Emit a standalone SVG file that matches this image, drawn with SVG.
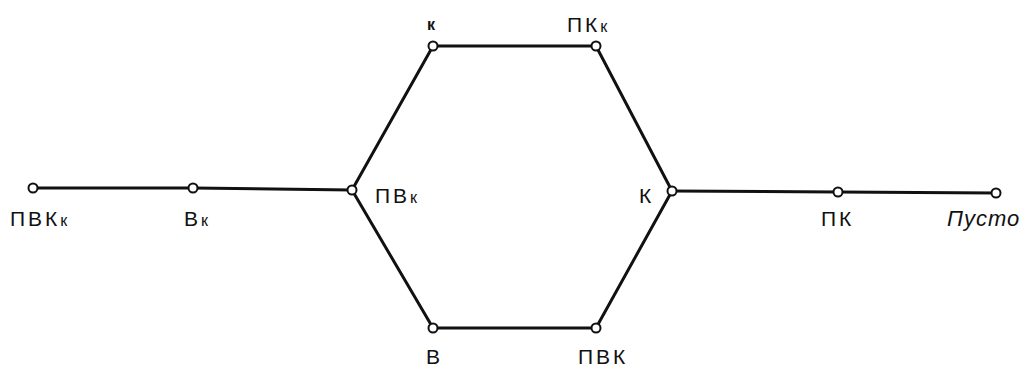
<svg xmlns="http://www.w3.org/2000/svg" width="1029" height="367" viewBox="0 0 1029 367">
<style>
.e{stroke:#111;stroke-width:3;fill:none}
.n{fill:#fff;stroke:#111;stroke-width:2}
text{font-family:"Liberation Sans",Arial,sans-serif;font-size:21px;fill:#111;letter-spacing:3px}
.s{font-size:16px}
.i{font-style:italic;font-size:22px;letter-spacing:1px}
</style>
<rect width="1029" height="367" fill="#fff"/>
<g id="connectors">
<path class="e" d="M33,188 L193,188 L352,190"/>
<path class="e" d="M352,190 L433,46 L596,46 L672,191"/>
<path class="e" d="M352,190 L433,328 L596,328 L672,191"/>
<path class="e" d="M672,191 L838,192 L996,193"/>
</g>
<g id="n-pvkk"><circle class="n" cx="33" cy="188" r="4.5"/><text x="10" y="226">ПВК<tspan class="s">к</tspan></text></g>
<g id="n-vk"><circle class="n" cx="193" cy="188" r="4.5"/><text x="184" y="226">В<tspan class="s">к</tspan></text></g>
<g id="n-pvk-small"><circle class="n" cx="352" cy="190" r="4.5"/><text x="375" y="203">ПВ<tspan class="s">к</tspan></text></g>
<g id="n-k-top"><circle class="n" cx="433" cy="46" r="4.5"/><text class="s" x="427" y="30" font-weight="bold">к</text></g>
<g id="n-pkk"><circle class="n" cx="596" cy="46" r="4.5"/><text x="567" y="32">ПК<tspan class="s">к</tspan></text></g>
<g id="n-K"><circle class="n" cx="672" cy="191" r="4.5"/><text x="639" y="203">К</text></g>
<g id="n-PK"><circle class="n" cx="838" cy="192" r="4.5"/><text x="821" y="226">ПК</text></g>
<g id="n-empty"><circle class="n" cx="996" cy="193" r="4.5" stroke-width="2.5"/><text class="i" x="947" y="226">Пусто</text></g>
<g id="n-V"><circle class="n" cx="433" cy="328" r="4.5"/><text x="426" y="364">В</text></g>
<g id="n-PVK"><circle class="n" cx="596" cy="328" r="4.5"/><text x="578" y="364">ПВК</text></g>
</svg>
